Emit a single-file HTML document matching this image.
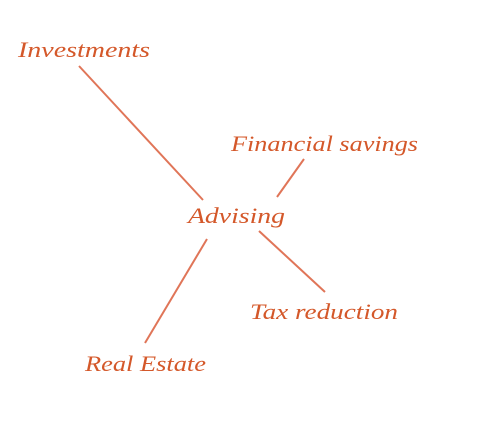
<!DOCTYPE html>
<html><head><meta charset="utf-8"><style>
html,body{margin:0;padding:0;background:#fff;}
svg{display:block;}
text{font-family:"Liberation Serif",serif;font-style:italic;font-size:22px;fill:#d4582a;}
</style></head><body>
<svg width="482" height="436" viewBox="0 0 482 436">
<g stroke="#e07558" stroke-width="2" fill="none">
<line x1="79" y1="66" x2="203" y2="200"/>
<line x1="304" y1="159" x2="277" y2="197"/>
<line x1="207" y1="239" x2="145" y2="343"/>
<line x1="259" y1="231" x2="325" y2="292"/>
</g>
<text x="18" y="57" textLength="132" lengthAdjust="spacingAndGlyphs">Investments</text>
<text x="231" y="151" textLength="187" lengthAdjust="spacingAndGlyphs">Financial savings</text>
<text x="188" y="223" textLength="97" lengthAdjust="spacingAndGlyphs">Advising</text>
<text x="250" y="319" textLength="148" lengthAdjust="spacingAndGlyphs">Tax reduction</text>
<text x="85" y="371" textLength="121" lengthAdjust="spacingAndGlyphs">Real Estate</text>
</svg>
</body></html>
